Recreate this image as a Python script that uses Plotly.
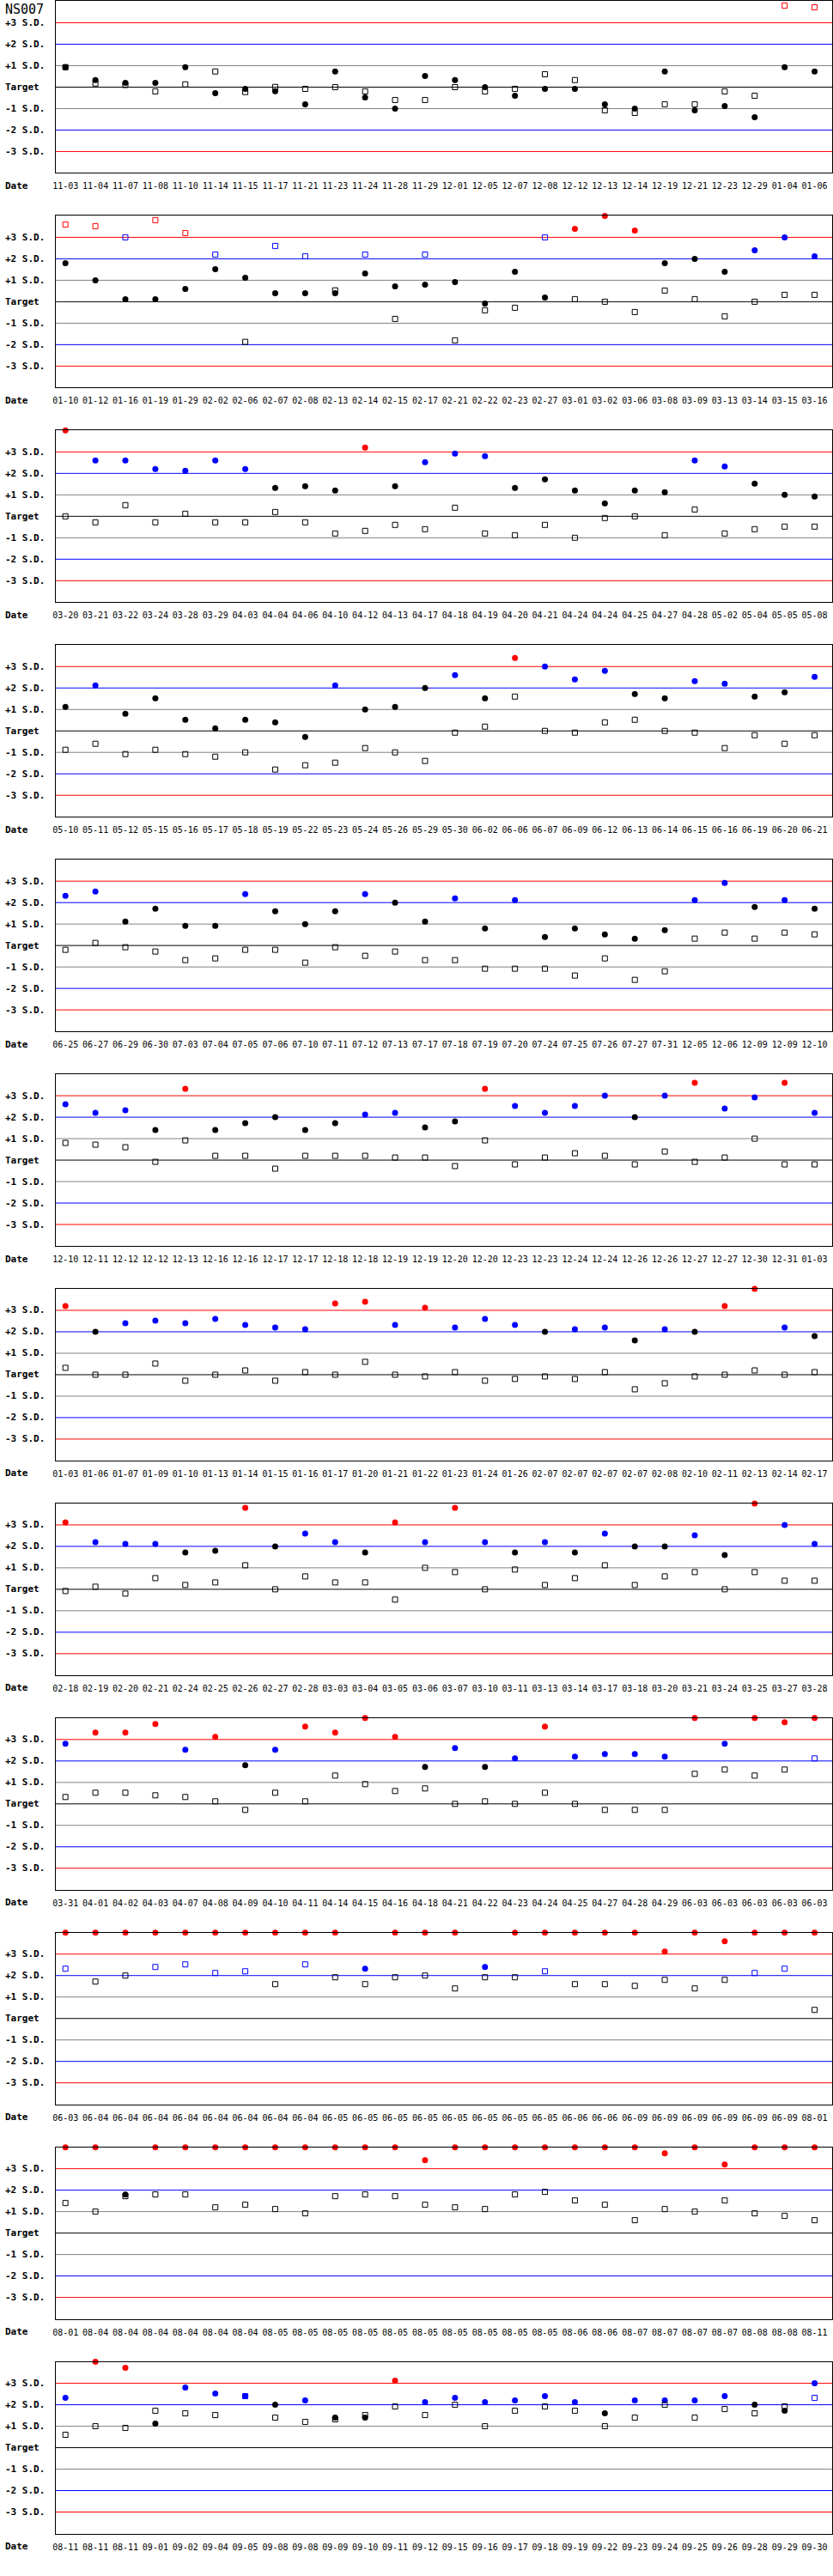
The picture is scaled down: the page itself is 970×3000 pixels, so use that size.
import plotly.graph_objects as go

# ---------------- data (values in S.D. units) ----------------
dates_01 = ["11-03","11-04","11-07","11-08","11-10","11-14","11-15","11-17","11-21","11-23","11-24","11-28","11-29",
            "12-01","12-05","12-07","12-08","12-12","12-13","12-14","12-19","12-21","12-23","12-29","01-04","01-06"]
circ_01 = [0.93,0.33,0.2,0.2,0.93,-0.28,-0.08,-0.19,-0.8,0.73,-0.48,-1.0,0.52,0.33,0.0,-0.4,-0.08,-0.08,-0.8,-1.0,0.73,-1.08,-0.88,-1.4,0.93,0.73]
sq_01 = [0.93,0.17,0.1,-0.2,0.13,0.73,-0.23,0.01,-0.08,0.0,-0.2,-0.6,-0.6,0.0,-0.2,-0.08,0.6,0.33,-1.08,-1.2,-0.8,-0.8,-0.2,-0.4,3.8,3.72]

dates_02 = ["01-10","01-12","01-16","01-19","01-29","02-02","02-06","02-07","02-08","02-13","02-14","02-15","02-17",
            "02-21","02-22","02-23","02-27","03-01","03-02","03-06","03-08","03-09","03-13","03-14","03-15","03-16"]
circ_02 = [1.8,1.0,0.12,0.12,0.6,1.52,1.12,0.4,0.4,0.4,1.32,0.72,0.8,0.92,-0.08,1.4,0.2,3.4,4.0,3.32,1.8,2.0,1.4,2.4,3.0,2.12]
sq_02 = [3.6,3.52,3.0,3.8,3.2,2.2,-1.87,2.6,2.12,0.53,2.2,-0.8,2.2,-1.8,-0.4,-0.28,3.0,0.12,0.0,-0.48,0.52,0.12,-0.68,0.0,0.32,0.32]

dates_03 = ["03-20","03-21","03-22","03-24","03-28","03-29","04-03","04-04","04-06","04-10","04-12","04-13","04-17",
            "04-18","04-19","04-20","04-21","04-24","04-24","04-25","04-27","04-28","05-02","05-04","05-05","05-08"]
circ_03 = [4.0,2.6,2.6,2.2,2.12,2.6,2.2,1.32,1.4,1.2,3.2,1.4,2.52,2.92,2.8,1.32,1.72,1.2,0.6,1.2,1.12,2.6,2.32,1.52,1.0,0.92]
sq_03 = [0.0,-0.28,0.52,-0.28,0.12,-0.28,-0.28,0.2,-0.28,-0.8,-0.68,-0.4,-0.6,0.4,-0.8,-0.88,-0.4,-1.0,-0.08,0.0,-0.88,0.32,-0.8,-0.6,-0.48,-0.48]

dates_04 = ["05-10","05-11","05-12","05-15","05-16","05-17","05-18","05-19","05-22","05-23","05-24","05-26","05-29",
            "05-30","06-02","06-06","06-07","06-09","06-12","06-13","06-14","06-15","06-16","06-19","06-20","06-21"]
circ_04 = [1.12,2.12,0.8,1.52,0.52,0.12,0.52,0.4,-0.28,2.12,1.0,1.12,2.0,2.6,1.52,3.4,3.0,2.4,2.8,1.72,1.52,2.32,2.2,1.6,1.8,2.52]
sq_04 = [-0.88,-0.6,-1.08,-0.88,-1.08,-1.2,-1.0,-1.8,-1.6,-1.48,-0.8,-1.0,-1.4,-0.08,0.2,1.6,0.0,-0.08,0.4,0.52,0.0,-0.08,-0.8,-0.2,-0.6,-0.2]

dates_05 = ["06-25","06-27","06-29","06-30","07-03","07-04","07-05","07-06","07-10","07-11","07-12","07-13","07-17",
            "07-18","07-19","07-20","07-24","07-25","07-26","07-27","07-31","12-05","12-06","12-09","12-09","12-10"]
circ_05 = [2.32,2.52,1.12,1.72,0.92,0.92,2.4,1.6,1.0,1.6,2.4,2.0,1.12,2.2,0.8,2.12,0.4,0.8,0.52,0.32,0.72,2.12,2.92,1.8,2.12,1.72]
sq_05 = [-0.2,0.12,-0.08,-0.28,-0.68,-0.6,-0.2,-0.2,-0.8,-0.08,-0.48,-0.28,-0.68,-0.68,-1.08,-1.08,-1.08,-1.4,-0.6,-1.6,-1.2,0.32,0.6,0.32,0.6,0.52]

dates_06 = ["12-10","12-11","12-12","12-12","12-13","12-16","12-16","12-17","12-17","12-18","12-18","12-19","12-19",
            "12-20","12-20","12-23","12-23","12-24","12-24","12-26","12-26","12-27","12-27","12-30","12-31","01-03"]
circ_06 = [2.6,2.2,2.32,1.4,3.32,1.4,1.72,2.0,1.4,1.72,2.12,2.2,1.52,1.8,3.32,2.52,2.2,2.52,3.0,2.0,3.0,3.6,2.4,2.92,3.6,2.2]
sq_06 = [0.8,0.72,0.6,-0.08,0.92,0.2,0.2,-0.4,0.2,0.2,0.2,0.12,0.12,-0.28,0.92,-0.2,0.12,0.32,0.2,-0.2,0.4,-0.08,0.12,1.0,-0.2,-0.2]

dates_07 = ["01-03","01-06","01-07","01-09","01-10","01-13","01-14","01-15","01-16","01-17","01-20","01-21","01-22",
            "01-23","01-24","01-26","02-07","02-07","02-07","02-07","02-08","02-10","02-11","02-13","02-14","02-17"]
circ_07 = [3.2,2.0,2.4,2.52,2.4,2.6,2.32,2.2,2.12,3.32,3.4,2.32,3.12,2.2,2.6,2.32,2.0,2.12,2.2,1.6,2.12,2.0,3.2,4.0,2.2,1.8]
sq_07 = [0.32,0.0,0.0,0.52,-0.28,0.0,0.2,-0.28,0.12,0.0,0.6,0.0,-0.08,0.12,-0.28,-0.2,-0.08,-0.2,0.12,-0.68,-0.4,-0.08,0.0,0.2,0.0,0.12]

dates_08 = ["02-18","02-19","02-20","02-21","02-24","02-25","02-26","02-27","02-28","03-03","03-04","03-05","03-06",
            "03-07","03-10","03-11","03-13","03-14","03-17","03-18","03-20","03-21","03-24","03-25","03-27","03-28"]
circ_08 = [3.12,2.2,2.12,2.12,1.72,1.8,3.8,2.0,2.6,2.2,1.72,3.12,2.2,3.8,2.2,1.72,2.2,1.72,2.6,2.0,2.0,2.52,1.6,4.0,3.0,2.12]
sq_08 = [-0.08,0.12,-0.2,0.52,0.2,0.32,1.12,0.0,0.6,0.32,0.32,-0.48,1.0,0.8,0.0,0.92,0.2,0.52,1.12,0.2,0.6,0.8,0.0,0.8,0.4,0.4]

dates_09 = ["03-31","04-01","04-02","04-03","04-07","04-08","04-09","04-10","04-11","04-14","04-15","04-16","04-18",
            "04-21","04-22","04-23","04-24","04-25","04-27","04-28","04-29","06-03","06-03","06-03","06-03","06-03"]
circ_09 = [2.8,3.32,3.32,3.72,2.52,3.12,1.8,2.52,3.6,3.32,4.0,3.12,1.72,2.6,1.72,2.12,3.6,2.2,2.32,2.32,2.2,4.0,2.8,4.0,3.8,4.0]
sq_09 = [0.32,0.52,0.52,0.4,0.32,0.12,-0.28,0.52,0.12,1.32,0.92,0.6,0.72,0.0,0.12,0.0,0.52,0.0,-0.28,-0.28,-0.28,1.4,1.6,1.32,1.6,2.12]

dates_10 = ["06-03","06-04","06-04","06-04","06-04","06-04","06-04","06-04","06-04","06-05","06-05","06-05","06-05",
            "06-05","06-05","06-05","06-05","06-06","06-06","06-09","06-09","06-09","06-09","06-09","06-09","08-01"]
circ_10 = [4.0,4.0,4.0,4.0,4.0,4.0,4.0,4.0,4.0,4.0,2.32,4.0,4.0,4.0,2.4,4.0,4.0,4.0,4.0,4.0,3.12,4.0,3.6,4.0,4.0,4.0]
sq_10 = [2.32,1.72,2.0,2.4,2.52,2.12,2.2,1.6,2.52,1.92,1.6,1.92,2.0,1.4,1.92,1.92,2.2,1.6,1.6,1.52,1.8,1.4,1.8,2.12,2.32,0.4]

dates_11 = ["08-01","08-04","08-04","08-04","08-04","08-04","08-04","08-05","08-05","08-05","08-05","08-05","08-05",
            "08-05","08-05","08-05","08-05","08-06","08-06","08-07","08-07","08-07","08-07","08-08","08-08","08-11"]
circ_11 = [4.0,4.0,1.8,4.0,4.0,4.0,4.0,4.0,4.0,4.0,4.0,4.0,3.4,4.0,4.0,4.0,4.0,4.0,4.0,4.0,3.72,4.0,3.2,4.0,4.0,4.0]
sq_11 = [1.4,1.0,1.72,1.8,1.8,1.2,1.32,1.12,0.92,1.72,1.8,1.72,1.32,1.2,1.12,1.8,1.92,1.52,1.32,0.6,1.12,1.0,1.52,0.92,0.8,0.6]

dates_12 = ["08-11","08-11","08-11","09-01","09-02","09-04","09-05","09-08","09-08","09-09","09-10","09-11","09-12",
            "09-15","09-16","09-17","09-18","09-19","09-22","09-23","09-24","09-25","09-26","09-28","09-29","09-30"]
circ_12 = [2.32,4.0,3.72,1.12,2.8,2.52,2.4,2.0,2.2,1.4,1.4,3.12,2.12,2.32,2.12,2.2,2.4,2.12,1.6,2.2,2.2,2.2,2.4,2.0,1.72,3.0]
sq_12 = [0.6,1.0,0.92,1.72,1.6,1.52,2.4,1.4,1.2,1.32,1.52,1.92,1.52,2.0,1.0,1.72,1.92,1.72,1.0,1.4,2.0,1.4,1.8,1.6,1.92,2.32]

panels = [(dates_01, circ_01, sq_01), (dates_02, circ_02, sq_02), (dates_03, circ_03, sq_03),
          (dates_04, circ_04, sq_04), (dates_05, circ_05, sq_05), (dates_06, circ_06, sq_06),
          (dates_07, circ_07, sq_07), (dates_08, circ_08, sq_08), (dates_09, circ_09, sq_09),
          (dates_10, circ_10, sq_10), (dates_11, circ_11, sq_11), (dates_12, circ_12, sq_12)]

sd_levels = [3, 2, 1, 0, -1, -2, -3]
sd_labels = ["+3 S.D.", "+2 S.D.", "+1 S.D.", "Target", "-1 S.D.", "-2 S.D.", "-3 S.D."]
title_text = "NS007"

# ---------------- styling ----------------
W, H = 970, 3000
PANEL_STEP = 250
PLOT_H = 200
X_LEFT, X_RIGHT = 61, 969
line_colors = {3: "#ff0000", 2: "#0000ff", 1: "#808080", 0: "#000000",
               -1: "#808080", -2: "#0000ff", -3: "#ff0000"}
FONT = "DejaVu Sans Mono"


def sd_color(v):
    a = abs(v)
    if a > 3:
        return "#ff0000"
    if a > 2:
        return "#0000ff"
    return "#000000"


fig = go.Figure()
layout = dict(width=W, height=H, margin=dict(l=0, r=0, t=0, b=0),
              paper_bgcolor="white", plot_bgcolor="white", showlegend=False)
shapes = []
annotations = []

for k, (dates, circ, sq) in enumerate(panels):
    n = k + 1
    xa = "x" if n == 1 else f"x{n}"
    ya = "y" if n == 1 else f"y{n}"
    xs = list(range(len(dates)))
    fig.add_trace(go.Scatter(
        x=xs, y=circ, mode="markers", xaxis=xa, yaxis=ya, cliponaxis=False,
        marker=dict(symbol="circle", size=7, color=[sd_color(v) for v in circ], line=dict(width=0)),
        hoverinfo="skip"))
    fig.add_trace(go.Scatter(
        x=xs, y=sq, mode="markers", xaxis=xa, yaxis=ya, cliponaxis=False,
        marker=dict(symbol="square-open", size=6, color=[sd_color(v) for v in sq], line=dict(width=1)),
        hoverinfo="skip"))

    top = PANEL_STEP * k + 0.5
    bot = top + PLOT_H
    ydom = [1 - bot / H, 1 - top / H]
    xdom = [X_LEFT / W, X_RIGHT / W]
    px_per = 35.04
    x0 = -(72.5 - X_LEFT) / px_per
    x1 = x0 + (X_RIGHT - X_LEFT) / px_per

    key_x = "xaxis" if n == 1 else f"xaxis{n}"
    key_y = "yaxis" if n == 1 else f"yaxis{n}"
    layout[key_x] = dict(domain=xdom, anchor=ya, range=[x0, x1], tickmode="array",
                         tickvals=xs, ticktext=dates, ticks="", showgrid=False, zeroline=False,
                         showline=True, mirror=True, linecolor="black", linewidth=1,
                         tickfont=dict(family=FONT, size=10, color="black"),
                         ticklabelstandoff=6, fixedrange=True)
    layout[key_y] = dict(domain=ydom, anchor=xa, range=[-4, 4], showticklabels=False,
                         ticks="", showgrid=False, zeroline=False,
                         showline=True, mirror=True, linecolor="black", linewidth=1,
                         fixedrange=True)

    for lev, lab in zip(sd_levels, sd_labels):
        shapes.append(dict(type="line", xref=f"{xa} domain", yref=ya, x0=0, x1=1, y0=lev, y1=lev,
                           line=dict(color=line_colors[lev], width=1), layer="below"))
        annotations.append(dict(text=f"<b>{lab}</b>", xref="paper", x=0, xanchor="left", yref=ya, y=lev,
                                yanchor="middle", showarrow=False,
                                font=dict(family=FONT, size=11, color="black")))
    annotations.append(dict(text="<b>Date</b>", xref="paper", x=0, xanchor="left", yref=f"{ya} domain",
                            y=0, yshift=-15, yanchor="middle", showarrow=False,
                            font=dict(family=FONT, size=11, color="black")))
    if k == 0:
        annotations.append(dict(text=title_text, xref="paper", x=0, xanchor="left",
                                yref=f"{ya} domain", y=1, yanchor="top", yshift=1, showarrow=False,
                                font=dict(family=FONT, size=15, color="black")))

layout["shapes"] = shapes
layout["annotations"] = annotations
fig.update_layout(**layout)
fig.write_html("out.html", config={"displayModeBar": False},
               post_script="document.body.style.margin='0';")
